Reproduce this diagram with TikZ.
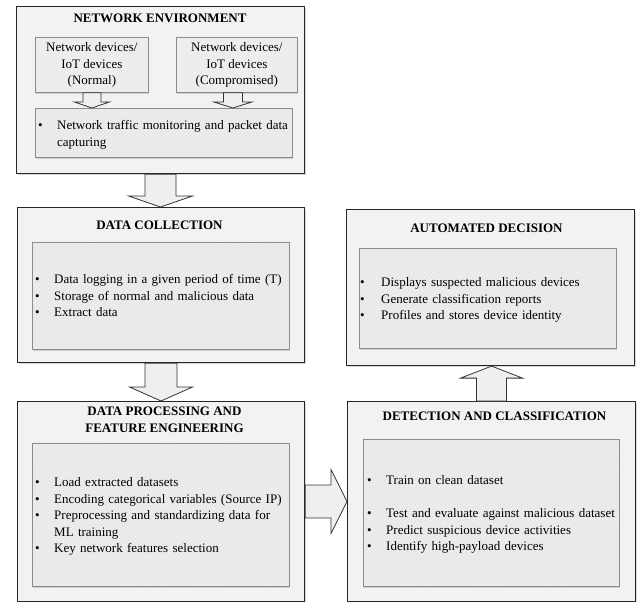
\documentclass[tikz,border=0pt]{standalone}
\usepackage{fontspec}
\setmainfont{Liberation Serif}
\usetikzlibrary{calc,shadows,patterns.meta}
\definecolor{outerfill}{HTML}{F2F2F2}
\definecolor{outerdraw}{HTML}{262626}
\definecolor{innerfill}{HTML}{EDEDED}
\definecolor{innerdraw}{HTML}{8C8C8C}
\definecolor{hatch}{HTML}{E4E4E4}
\definecolor{arrowfill}{HTML}{EFEFEF}
\definecolor{arrowdraw}{HTML}{333333}
\newcommand\bl[1]{\makebox[19pt][l]{\textbullet}#1}
\newcommand\blw[1]{\makebox[21pt][l]{\textbullet}#1}
\newcommand\ind{\hspace*{19pt}}
% start, tip, shaft half width, head half width, head length
\newcommand\blockarr[5]{%
  \coordinate (hb) at ($(#2)!#5!(#1)$);
  \draw[blockarrow] ($(#1)!#3!90:(#2)$) -- ($(hb)!#3!90:(#2)$) -- ($(hb)!#4!90:(#2)$) -- (#2)
    -- ($(hb)!#4!-90:(#2)$) -- ($(hb)!#3!-90:(#2)$) -- ($(#1)!#3!-90:(#2)$) -- cycle;
}
\begin{document}
\begin{tikzpicture}[x=1pt,y=-1pt,
  outerbox/.style={draw=outerdraw, line width=1.1pt, fill=outerfill,
    drop shadow={shadow xshift=1pt, shadow yshift=-1pt, opacity=0.3},
    anchor=north west, inner sep=0pt},
  innerbox/.style={draw=innerdraw, line width=0.8pt,
    drop shadow={shadow xshift=1pt, shadow yshift=-1.2pt, opacity=0.3},
    preaction={fill=innerfill},
    pattern={Lines[angle=45,distance=3pt,line width=0.7pt]}, pattern color=hatch,
    anchor=north west, inner sep=0pt},
  devbox/.style={draw=innerdraw, line width=0.8pt, fill=innerfill,
    drop shadow={shadow xshift=1pt, shadow yshift=-1.2pt, opacity=0.3},
    anchor=north west, inner sep=0pt, align=center, txt},
  txt/.style={font=\fontsize{13}{16.5}\selectfont},
  title/.style={font=\bfseries\fontsize{13}{16.5}\selectfont, inner sep=0pt},
  listnode/.style={txt, anchor=base west, inner sep=0pt, text width=280pt, align=left},
  blockarrow/.style={draw=arrowdraw, line width=0.8pt, fill=arrowfill, line join=miter}
]
\useasboundingbox (0,0) rectangle (640,602);

% NETWORK ENVIRONMENT
\node[outerbox, minimum width=288pt, minimum height=167pt] (ne) at (16,6) {};
\node[title] (net) at (160,18) {NETWORK ENVIRONMENT};
\node[devbox, minimum width=113pt, minimum height=55pt] (n1) at (35,37) {Network devices/\\IoT devices\\(Normal)};
\node[devbox, minimum width=121pt, minimum height=55pt] (n2) at (176,37) {Network devices/\\IoT devices\\(Compromised)};
\node[innerbox, minimum width=257pt, minimum height=49pt] (tr) at (35,108) {};
\node[listnode] (trl) at (38,129.5) {\bl{Network traffic monitoring and packet data}\\\ind capturing};

% DATA COLLECTION
\node[outerbox, minimum width=287pt, minimum height=155pt] (dc) at (17,207) {};
\node[title] (dct) at (159.5,225) {DATA COLLECTION};
\node[innerbox, minimum width=257pt, minimum height=107pt] (dci) at (32,242) {};
\node[listnode] (dcl) at (35,283.5) {\bl{Data logging in a given period of time (T)}\\\bl{Storage of normal and malicious data}\\\bl{Extract data}};

% DATA PROCESSING
\node[outerbox, minimum width=287pt, minimum height=200pt] (dp) at (17,401) {};
\node[title, align=center] (dpt) at (164.5,420) {DATA PROCESSING AND\\FEATURE ENGINEERING};
\node[innerbox, minimum width=257pt, minimum height=143pt] (dpi) at (32,443) {};
\node[listnode] (dpl) at (35,486.5) {\bl{Load extracted datasets}\\\bl{Encoding categorical variables (Source IP)}\\\bl{Preprocessing and standardizing data for}\\\ind ML training\\\bl{Key network features selection}};

% AUTOMATED DECISION
\node[outerbox, minimum width=288pt, minimum height=156pt] (ad) at (346,209) {};
\node[title] (adt) at (486.5,228) {AUTOMATED DECISION};
\node[innerbox, minimum width=257pt, minimum height=100pt] (adi) at (359,248) {};
\node[listnode] (adl) at (360,286.5) {\blw{Displays suspected malicious devices}\\\blw{Generate classification reports}\\\blw{Profiles and stores device identity}};

% DETECTION AND CLASSIFICATION
\node[outerbox, minimum width=288pt, minimum height=200pt] (det) at (347,401) {};
\node[title] (dett) at (494.5,416) {DETECTION AND CLASSIFICATION};
\node[innerbox, minimum width=256pt, minimum height=147pt] (deti) at (363,439) {};
\node[listnode] (detl) at (367,484.5) {\bl{Train on clean dataset}\\[16.5pt]\bl{Test and evaluate against malicious dataset}\\\bl{Predict suspicious device activities}\\\bl{Identify high-payload devices}};

% block arrows
\coordinate (s1) at (n1.south);
\coordinate (t1) at (n1.south |- tr.north);
\blockarr{s1}{t1}{9pt}{17.5pt}{6pt}
\coordinate (s2) at ($(n2.south)+(-4,0)$);
\coordinate (t2) at (s2 |- tr.north);
\blockarr{s2}{t2}{9.5pt}{19pt}{6pt}
\coordinate (s3) at (ne.south);
\coordinate (t3) at (ne.south |- dc.north);
\blockarr{s3}{t3}{15.5pt}{32pt}{11pt}
\coordinate (s4) at (dc.south);
\coordinate (t4) at (dc.south |- dp.north);
\blockarr{s4}{t4}{16pt}{31.5pt}{14pt}
\coordinate (s5) at (dp.east);
\coordinate (t5) at (dp.east -| det.west);
\blockarr{s5}{t5}{16.5pt}{32pt}{16pt}
\coordinate (s6) at (det.north);
\coordinate (t6) at (det.north |- ad.south);
\blockarr{s6}{t6}{15pt}{31pt}{12pt}
\end{tikzpicture}
\end{document}
